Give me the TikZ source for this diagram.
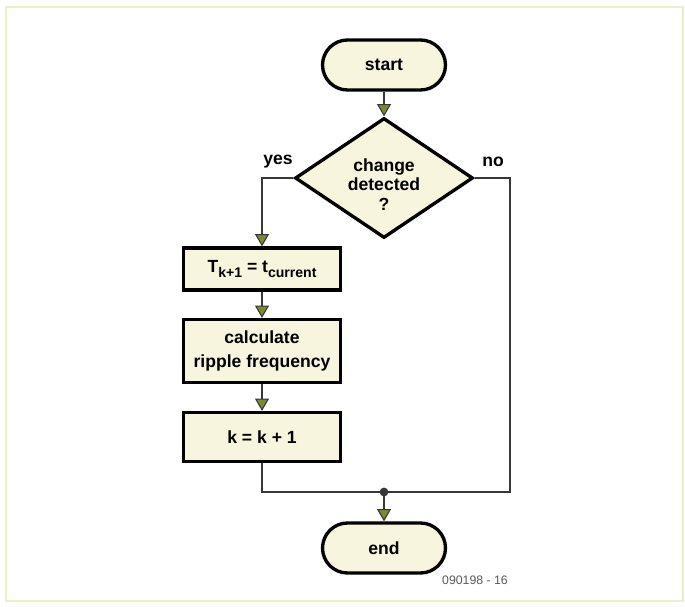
\documentclass[tikz,border=0pt]{standalone}
\usepackage{fontspec}
\setmainfont{Liberation Sans}
\usetikzlibrary{arrows.meta,shapes.geometric}
\definecolor{cream}{RGB}{247,245,222}
\definecolor{leaf}{RGB}{122,138,48}
\definecolor{wirecol}{RGB}{55,55,55}
\definecolor{framecol}{RGB}{236,240,200}
\newcommand{\lowsub}[1]{\raisebox{-2.6pt}{\fontsize{8}{9}\selectfont #1}}

\begin{document}
\begin{tikzpicture}[x=0.02cm,y=-0.02cm,
  lbl/.style={font=\bfseries\fontsize{10}{12}\selectfont},
  term/.style={draw,line width=1.9pt,fill=cream,rounded corners=0.5cm,minimum width=2.46cm,minimum height=1cm,lbl},
  proc/.style={draw,line width=1.9pt,fill=cream,minimum width=3.14cm,align=center,font=\bfseries\fontsize{10}{13.5}\selectfont},
  test/.style={draw,line width=1.9pt,fill=cream,diamond,minimum width=3.56cm,minimum height=2.4cm,inner sep=0pt},
  wire/.style={draw=wirecol,line width=1.1pt},
  flow/.style={wire,-{Triangle[width=8pt,length=7pt,fill=leaf,line width=0.6pt]}}]
  \useasboundingbox (0,0) rectangle (685,607);
  \draw[framecol,line width=0.8pt] (6,7) rectangle (683,601);
  % nodes
  \node[term] (start) at (384,65) {start};
  \node[test,label={[lbl,align=center,font=\bfseries\fontsize{10}{11}\selectfont,yshift=-0.13cm]center:change\\detected\\?}] (chg) at (384,178) {};
  \node[proc,minimum height=0.84cm] (stamp) at (262,269) {T\lowsub{k+1} = t\lowsub{current}};
  \node[proc,minimum height=1.26cm] (calc) at (262,351) {calculate\\ripple frequency};
  \node[proc,minimum height=0.98cm] (incr) at (262,437) {k = k + 1};
  \node[term] (end) at (384,548) {end};
  \coordinate (join) at (384,492);
  \coordinate (noside) at (510,492);
  \node[lbl] (yes) at (278,162) {yes};
  \node[lbl] (no) at (493,162) {no};
  \node[text=black!65,font=\fontsize{7}{8}\selectfont] (tag) at (475,580) {090198 - 16};
  % connectors
  \draw[flow] (start) -- (chg);
  \draw[flow] (chg.west) -| (stamp.north);
  \draw[flow] (stamp) -- (calc);
  \draw[flow] (calc) -- (incr);
  \draw[wire] (incr.south) |- (noside) |- (chg.east);
  \fill[wirecol] (join) circle (2.5pt);
  \draw[flow] (join) -- (end);
\end{tikzpicture}
\end{document}
